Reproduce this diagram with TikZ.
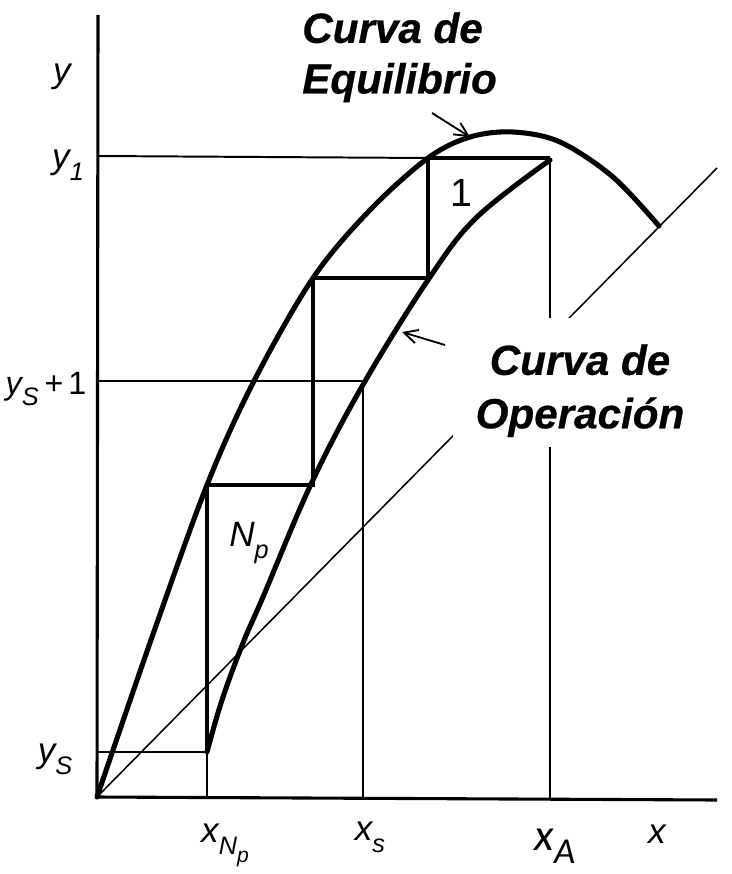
\documentclass[tikz,border=0pt]{standalone}
\usepackage{fontspec}
\setmainfont{Liberation Sans}
\newfontfamily\labf{Liberation Sans}
\newfontfamily\calf{Carlito}
\newfontfamily\titlef{Liberation Sans}[BoldItalicFeatures={FakeBold=0.6}]
\usetikzlibrary{arrows.meta}
\newcommand{\subA}[1]{\raisebox{-0.35em}{\fontsize{18}{18}\selectfont #1}}
\newcommand{\subB}[1]{\raisebox{-0.3em}{\fontsize{15}{15}\selectfont #1}}
\tikzset{
  thickcurve/.style={line width=3.6pt, line join=round, line cap=round},
  stepline/.style={line width=2.2pt},
  thinline/.style={line width=1.4pt},
  axisline/.style={line width=2.2pt},
  diagline/.style={line width=1.1pt},
  arrowline/.style={line width=1.3pt, -{Straight Barb[length=3.4mm,width=3.4mm,line width=1.3pt]}},
  titletext/.style={font=\titlef\fontsize{30}{36}\selectfont\bfseries\itshape, inner sep=0pt},
  lab/.style={font=\labf\itshape\fontsize{25}{25}\selectfont, inner sep=0pt},
}
\begin{document}
\begin{tikzpicture}[x=0.025cm, y=-0.025cm]
\useasboundingbox (0,0) rectangle (731,874);
% key points
\coordinate (O) at (97,797);
\coordinate (ytop) at (98,15);
\coordinate (xend) at (717,800);
\coordinate (y1L) at (98,156);
\coordinate (E1) at (428,158);
\coordinate (P0) at (550,158);
\coordinate (xA) at (550,799);
\coordinate (P1) at (428,278);
\coordinate (E2) at (313,278);
\coordinate (P2) at (313,485);
\coordinate (E3) at (207,485);
\coordinate (P3) at (207,752);
\coordinate (xNp) at (207,797);
\coordinate (ySL) at (98,752);
\coordinate (ys1L) at (98,381);
\coordinate (Q) at (363,381);
\coordinate (xs) at (363,798);
\coordinate (Dend) at (717,168);
\coordinate (Eend) at (659,226);

% diagonal
\draw[diagline] (O) -- (Dend);
% axes
\draw[axisline] (ytop) -- (O) -- (xend);
% thin guide lines
\draw[thinline] (y1L) -- (E1);
\draw[thinline] (P0) -- (xA);
\draw[thinline] (ys1L) -- (Q) -- (xs);
\draw[thinline] (ySL) -- (P3);
\draw[thinline] (P3) -- (xNp);
% steps
\draw[stepline] (E1) -- (P0);
\draw[stepline] (E1) -- (P1) -- (E2) -- (P2) -- (E3) -- (P3);

% equilibrium curve
\draw[thickcurve] plot[smooth, tension=0.55] coordinates {(97,797) (151,640) (207,485) (254,381) (313,278) (370,210) (428,158) (470,137) (513,132) (560,142) (613,177) (659,226)};
% operating curve
\draw[thickcurve] plot[smooth, tension=0.6] coordinates {(207,752) (222,700) (243,643) (263,597) (312,482) (364,383) (430,277) (477,217) (550,160)};

% white area behind the operating-curve label
\fill[white] (453,318) rectangle (700,447);

% arrows
\coordinate (eqS) at (432,113);
\coordinate (eqE) at (470,137);
\draw[arrowline] (eqS) -- (eqE);
\coordinate (opS) at (445,345);
\coordinate (opE) at (402,332);
\draw[arrowline] (opS) -- (opE);

% titles
\node[titletext, align=left, anchor=north west] (teq) at (302,12) {Curva de\\Equilibrio};
\node[titletext, align=center, anchor=north, font=\titlef\fontsize{30}{38}\selectfont\bfseries\itshape] (top) at (580,344) {Curva de\\Operación};

% labels
\node[lab] (ly) at (62,77) {y};
\node[lab] (ly1) at (68,165) {y\subA{1}};
\node[lab, font=\labf\itshape\fontsize{23}{23}\selectfont] (lys1) at (46,389) {y\subA{S}\,+\,\upshape 1};
\node[lab] (lys) at (55,759) {y\subA{S}};
\node[lab] (lxnp) at (225,845) {x\subA{N\subB{p}}};
\node[lab] (lxs) at (370,837) {x\subA{s}};
\node[font=\calf\itshape\fontsize{32}{32}\selectfont, inner sep=0pt] (lxa) at (555,846) {x\raisebox{-0.3em}{\fontsize{26}{26}\selectfont A}};
\node[lab] (lx) at (657,834) {x};
\node[lab, font=\labf\upshape\fontsize{28}{28}\selectfont] (l1) at (461,193) {1};
\node[lab] (lnp) at (249,543) {N\subA{p}};
\end{tikzpicture}
\end{document}
